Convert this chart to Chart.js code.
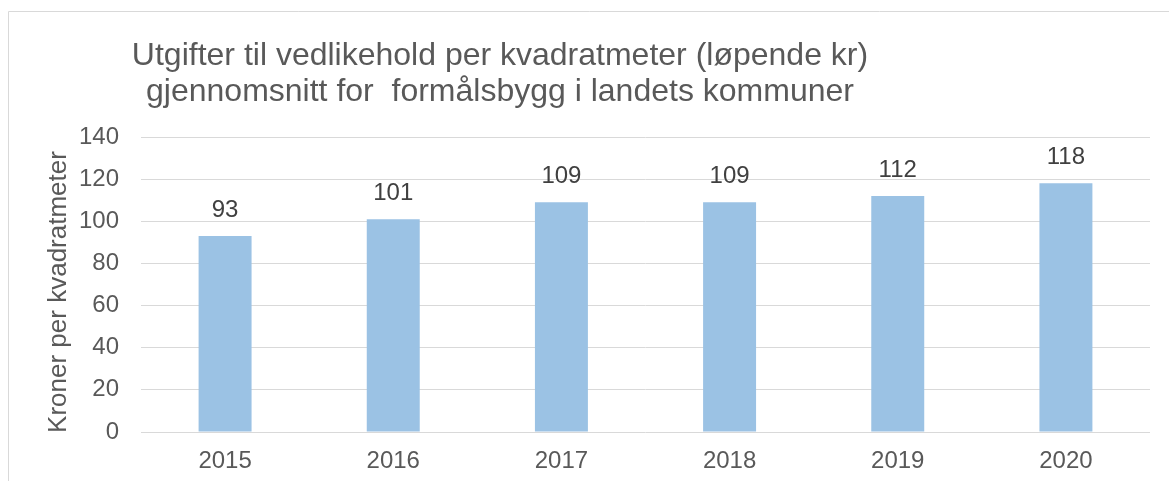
<!DOCTYPE html>
<html>
<head>
<meta charset="utf-8">
<script src="https://cdn.jsdelivr.net/npm/chart.js@4/dist/chart.umd.min.js"></script>
<style>
  html, body { margin: 0; padding: 0; background: #fff; }
  #wrap { width: 1169px; height: 481px; }
</style>
</head>
<body>
<div id="wrap"><canvas id="chartCanvas" width="1169" height="481"></canvas></div>
<script>
const years = ['2015', '2016', '2017', '2018', '2019', '2020'];
const costPerSqm = [93, 101, 109, 109, 112, 118];
const titleLines = [
    'Utgifter til vedlikehold per kvadratmeter (løpende kr)',
    'gjennomsnitt for  formålsbygg i landets kommuner'
];
const yAxisTitle = 'Kroner per kvadratmeter';

const FONT = '"Liberation Sans", Arial, sans-serif';

// title, axis title, value labels and the outer frame
const textPlugin = {
    id: 'textPlugin',
    afterDraw(chart) {
        const ctx = chart.ctx;
        ctx.save();

        ctx.strokeStyle = '#d9d9d9';
        ctx.lineWidth = 1;
        ctx.beginPath();
        ctx.moveTo(8.5, 490);
        ctx.lineTo(8.5, 11.5);
        ctx.lineTo(1180, 11.5);
        ctx.stroke();

        ctx.fillStyle = '#595959';
        ctx.font = '32px ' + FONT;
        ctx.textAlign = 'center';
        ctx.textBaseline = 'alphabetic';
        ctx.fillText(titleLines[0], 500, 65);
        ctx.fillText(titleLines[1], 500, 101);

        ctx.save();
        ctx.translate(66, 292);
        ctx.rotate(-Math.PI / 2);
        ctx.font = '26px ' + FONT;
        ctx.fillText(yAxisTitle, 0, 0);
        ctx.restore();

        ctx.fillStyle = '#404040';
        ctx.font = '24px ' + FONT;
        const meta = chart.getDatasetMeta(0);
        meta.data.forEach((bar, i) => {
            ctx.fillText(String(costPerSqm[i]), bar.x, bar.y - 19);
        });
        ctx.restore();
    }
};

new Chart(document.getElementById('chartCanvas').getContext('2d'), {
    type: 'bar',
    data: {
        labels: years,
        datasets: [{
            data: costPerSqm,
            backgroundColor: '#9bc2e4',
            borderWidth: 0,
            barPercentage: 0.63,
            categoryPercentage: 0.5
        }]
    },
    options: {
        responsive: false,
        animation: false,
        layout: { padding: { top: 137, right: 19, bottom: 0, left: 0 } },
        plugins: {
            legend: { display: false },
            title: { display: false },
            tooltip: { enabled: false }
        },
        scales: {
            x: {
                grid: { display: false, drawTicks: false },
                border: { display: false },
                ticks: { color: '#595959', font: { family: FONT, size: 24 }, padding: 15 },
                afterFit(scale) { scale.height = 49; }
            },
            y: {
                min: 0,
                max: 140,
                ticks: { stepSize: 20, color: '#595959', font: { family: FONT, size: 24 }, padding: 22 },
                grid: { color: '#d9d9d9', lineWidth: 1, drawTicks: false },
                border: { display: false },
                afterFit(scale) { scale.width = 141; }
            }
        }
    },
    plugins: [textPlugin]
});
</script>
</body>
</html>
